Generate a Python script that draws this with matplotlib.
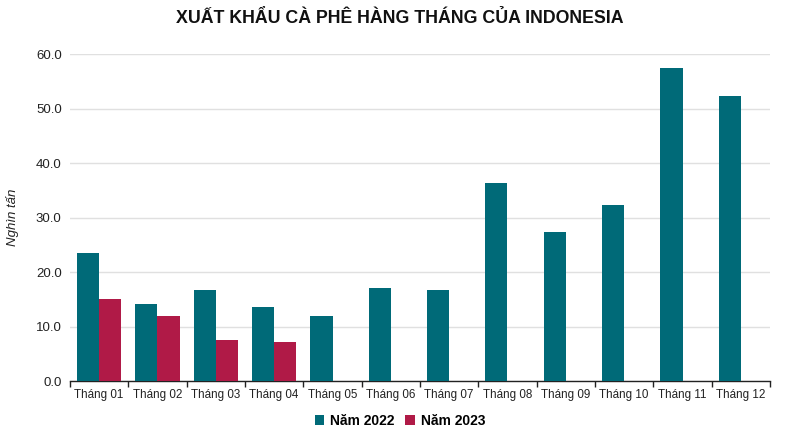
import matplotlib
matplotlib.use("Agg")
import matplotlib.pyplot as plt
import numpy as np
from matplotlib.ticker import FixedLocator, NullFormatter

categories = ["Tháng 01", "Tháng 02", "Tháng 03", "Tháng 04", "Tháng 05", "Tháng 06",
              "Tháng 07", "Tháng 08", "Tháng 09", "Tháng 10", "Tháng 11", "Tháng 12"]
y2022 = [23.5, 14.1, 16.8, 13.6, 12.0, 17.0, 16.8, 36.3, 27.3, 32.4, 57.5, 52.4]
y2023 = [15.0, 12.0, 7.5, 7.2]
series_names = ["Năm 2022", "Năm 2023"]
title = "XUẤT KHẨU CÀ PHÊ HÀNG THÁNG CỦA INDONESIA"
ylabel = "Nghìn tấn"

c2022 = "#006a78"
c2023 = "#b01a47"

plt.rcParams['font.family'] = ['Liberation Sans', 'DejaVu Sans']

fig = plt.figure(figsize=(8, 4.4), dpi=100)
ax = fig.add_axes([0.0875, 0.134, 0.875, 0.743])

x = np.arange(len(categories))
w = 0.38
ax.bar(x - w / 2, y2022, width=w, color=c2022, label=series_names[0], zorder=3)
ax.bar(np.arange(len(y2023)) + w / 2, y2023, width=w, color=c2023, label=series_names[1], zorder=3)

ax.set_xlim(-0.5, len(categories) - 0.5)
ax.set_ylim(0, 60)
ax.set_yticks(np.arange(0, 61, 10))
ax.set_yticklabels([f"{v:.1f}" for v in np.arange(0, 61, 10)], fontsize=9.5, color="#222222")
ax.yaxis.grid(True, color="#e0e0e0", linewidth=1, zorder=0)
ax.tick_params(axis="y", length=0, pad=6)

ax.set_xticks(x)
ax.set_xticklabels(categories, fontsize=8.4, color="#222222")
ax.tick_params(axis="x", which="major", length=0, pad=6)
ax.xaxis.set_minor_locator(FixedLocator(np.arange(-0.5, len(categories), 1.0)))
ax.xaxis.set_minor_formatter(NullFormatter())
ax.tick_params(axis="x", which="minor", length=4, width=1, color="#222222", direction="out")

for s in ["top", "right", "left"]:
    ax.spines[s].set_visible(False)
ax.spines["bottom"].set_color("#222222")
ax.spines["bottom"].set_linewidth(1)

ax.set_ylabel(ylabel, fontsize=9.5, style="italic", color="#222222", labelpad=12)

fig.text(0.5, 0.957, title, ha="center", va="center", fontsize=12.8, fontweight="bold",
         color="#111111")

leg = fig.legend(loc="center", bbox_to_anchor=(0.5, 0.043), ncol=2, frameon=False,
                 handlelength=0.7, handleheight=0.7, handletextpad=0.4,
                 columnspacing=0.8, prop={'weight': 'bold', 'size': 10})

fig.savefig("out.png", dpi=100, facecolor="white")
